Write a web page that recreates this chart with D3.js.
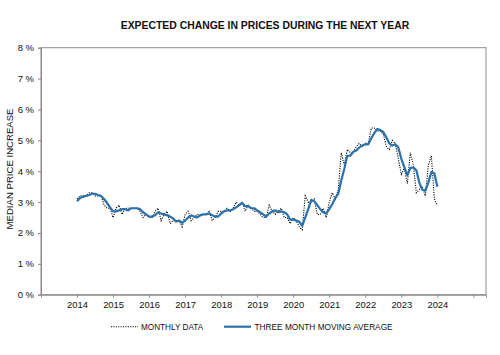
<!DOCTYPE html>
<html><head><meta charset="utf-8">
<script src="https://cdn.jsdelivr.net/npm/d3@7"></script>
<style>body{margin:0;background:#fff}svg{display:block}text{font-family:"Liberation Sans",Arial,sans-serif;fill:#111}</style>
</head><body><svg id="c" width="500" height="355"></svg>
<script>
// Data: Jan 2014 .. Jan 2024, monthly
const startYear = 2014;
const monthly = [
  3.1,3.2,3.2,3.2,3.3,3.3,3.2,3.2,3.2,2.9,2.8,2.8,
  2.5,2.8,2.9,2.6,2.8,2.8,2.8,2.8,2.8,2.7,2.5,2.6,
  2.5,2.5,2.7,2.8,2.4,2.6,2.7,2.3,2.4,2.4,2.4,2.2,
  2.6,2.7,2.4,2.5,2.6,2.6,2.6,2.6,2.7,2.4,2.5,2.7,
  2.7,2.7,2.8,2.7,2.8,3.0,2.9,3.0,2.7,2.9,2.8,2.7,
  2.7,2.6,2.5,2.5,2.9,2.7,2.6,2.7,2.8,2.5,2.5,2.3,
  2.5,2.4,2.2,2.1,3.2,3.0,3.0,3.1,2.6,2.6,2.8,2.5,
  3.0,3.3,3.1,3.4,4.6,4.2,4.7,4.6,4.6,4.8,4.9,4.8,
  4.9,4.9,5.4,5.4,5.3,5.3,5.2,4.8,4.7,5.0,4.9,4.4,
  3.9,4.1,3.6,4.6,4.2,3.3,3.4,3.5,3.2,4.2,4.5,3.1,
  2.9
];
const movingAvg = [
  3.03,3.13,3.17,3.20,3.23,3.27,3.27,3.23,3.20,3.10,2.97,2.83,
  2.70,2.70,2.73,2.77,2.77,2.73,2.80,2.80,2.80,2.77,2.67,2.60,
  2.53,2.53,2.57,2.67,2.63,2.60,2.57,2.53,2.47,2.37,2.40,2.33,
  2.40,2.50,2.57,2.53,2.50,2.57,2.60,2.60,2.63,2.57,2.53,2.53,
  2.63,2.70,2.73,2.73,2.77,2.83,2.90,2.97,2.87,2.87,2.80,2.80,
  2.73,2.67,2.60,2.53,2.63,2.70,2.73,2.67,2.70,2.67,2.60,2.43,
  2.43,2.40,2.37,2.23,2.50,2.77,3.07,3.03,2.90,2.77,2.67,2.63,
  2.77,2.93,3.13,3.27,3.70,4.07,4.50,4.50,4.63,4.67,4.77,4.83,
  4.87,4.87,5.07,5.23,5.37,5.33,5.27,5.10,4.90,4.83,4.87,4.77,
  4.40,4.13,3.87,4.10,4.13,4.03,3.63,3.40,3.37,3.63,3.97,3.93,
  3.50
];
const yearTicks = [2014,2015,2016,2017,2018,2019,2020,2021,2022,2023,2024,2025];
const yearLabels = ["2014","2015","2016","2017","2018","2019","2020","2021","2022","2023","2024",""];
const pctTicks = [0,1,2,3,4,5,6,7,8];
const title = "EXPECTED CHANGE IN PRICES DURING THE NEXT YEAR";
const yTitle = "MEDIAN PRICE INCREASE";
const seriesNames = ["MONTHLY DATA","THREE MONTH MOVING AVERAGE"];

const svg = d3.select("#c");
const L = 41, R = 486, T = 47.7, B = 294.7;
const x = d3.scaleLinear().domain([2013, 2025.35]).range([L, R]);
const y = d3.scaleLinear().domain([0, 8]).range([B, T]);
const t = i => startYear + i / 12;
const blue = "#2b72ad";

svg.append("text").attr("x", 265).attr("y", 29).attr("text-anchor", "middle")
  .style("font-size", "10.4px").style("font-weight", "bold").text(title);

// frame
svg.append("rect").attr("x", L).attr("y", T).attr("width", R - L).attr("height", B - T)
  .attr("fill", "none").attr("stroke", "#8a8a8a").attr("stroke-width", 1);

// y axis
const ya = svg.append("g").attr("transform", `translate(${L},0)`)
  .call(d3.axisLeft(y).tickValues(pctTicks).tickSize(3).tickPadding(4).tickFormat(d => d + " %"));
ya.select(".domain").attr("stroke", "#8a8a8a");
ya.selectAll(".tick line").attr("stroke", "#8a8a8a");
ya.selectAll("text").style("font-size", "9.5px").style("font-family", '"Liberation Sans",Arial,sans-serif').attr("fill", "#111");

// x axis
const xa = svg.append("g").attr("transform", `translate(0,${B})`)
  .call(d3.axisBottom(x).tickValues(yearTicks).tickSize(3).tickPadding(4).tickFormat((d, i) => yearLabels[i]));
xa.select(".domain").attr("stroke", "#8a8a8a");
xa.selectAll(".tick line").attr("stroke", "#8a8a8a");
xa.selectAll("text").style("font-size", "9.4px").style("font-family", '"Liberation Sans",Arial,sans-serif').attr("fill", "#111");

svg.append("text").attr("transform", "translate(13.4,169) rotate(-90)").attr("text-anchor", "middle")
  .style("font-size", "9.6px").text(yTitle);

const line = d3.line().x((d, i) => x(t(i))).y(d => y(d));
svg.append("path").datum(monthly).attr("d", line).attr("fill", "none")
  .attr("stroke", "#000").attr("stroke-width", 1.1).attr("stroke-dasharray", "1.1,1.3");
svg.append("path").datum(movingAvg).attr("d", line).attr("fill", "none")
  .attr("stroke", blue).attr("stroke-width", 2.2).attr("stroke-linejoin", "round");

// legend
const ly = 326.7;
svg.append("line").attr("x1", 111).attr("x2", 138).attr("y1", ly).attr("y2", ly)
  .attr("stroke", "#000").attr("stroke-width", 1.1).attr("stroke-dasharray", "1.1,1.3");
svg.append("text").attr("x", 141).attr("y", 330).style("font-size", "8.2px").text(seriesNames[0]);
svg.append("line").attr("x1", 224).attr("x2", 251).attr("y1", ly).attr("y2", ly)
  .attr("stroke", blue).attr("stroke-width", 2.2);
svg.append("text").attr("x", 254.5).attr("y", 330).style("font-size", "8.3px").text(seriesNames[1]);
</script></body></html>
